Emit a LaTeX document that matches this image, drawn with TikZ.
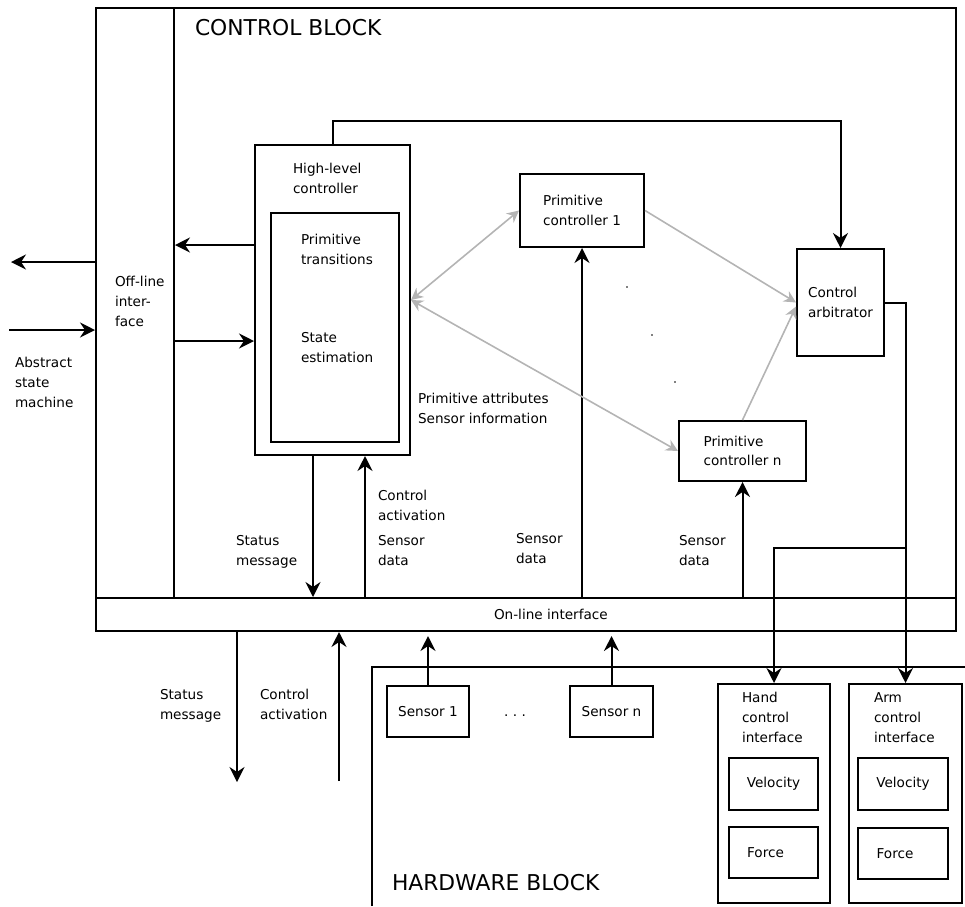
\documentclass[tikz,border=0pt]{standalone}
\usepackage{fontspec}
\setmainfont{DejaVu Sans}
\usetikzlibrary{arrows.meta}
\definecolor{arrgray}{RGB}{180,180,180}
\newcommand{\lbl}{\fontsize{13.6pt}{19.6pt}\selectfont}
\newcommand{\blocklbl}{\fontsize{21.8pt}{26pt}\selectfont}

\begin{document}
\begin{tikzpicture}[x=1pt, y=-1pt, line width=2pt,
        >={Stealth[length=15pt, width=15pt, inset=5pt]},
        comp/.style = {draw, line width=2pt, font=\lbl, align=left, inner sep=0pt},
        txt/.style = {font=\lbl, align=left, inner sep=0pt, anchor=base west},
        blk/.style = {font=\blocklbl, inner sep=0pt, anchor=base west},
        soft/.style = {draw=arrgray, line width=1.6pt, >={Stealth[length=12pt, width=12pt, inset=4pt]}}
    ]
        \useasboundingbox (0,0) rectangle (965,906);

        % control block
        \node[comp, minimum width=860pt, minimum height=623pt] (ctrl) at (526,319.5) {};
        \node[blk] (ctrltxt) at (194,35) {CONTROL BLOCK};
        \node[comp, minimum width=78pt, minimum height=590pt] (offline) at (135,303) {};
        \node[txt] (offtxt) at (114,326) {Off-line\\inter-\\face};
        \node[comp, minimum width=860pt, minimum height=33pt] (band) at (526,614.5) {};
        \node[txt] (online) at (493,619) {On-line interface};

        \node[comp, minimum width=155pt, minimum height=310pt] (hlc) at (332.5,300) {};
        \node[comp, minimum width=128pt, minimum height=229pt] (hlcin) at (335,327.5) {};
        \node[txt] (hlctxt) at (292,193) {High-level\\controller};
        \node[txt] (trans) at (300,264) {Primitive\\transitions};
        \node[txt] (est) at (300,362) {State\\estimation};

        \node[comp, minimum width=124pt, minimum height=73pt] (pc1) at (582,210.5) {Primitive\\controller 1};
        \node[comp, minimum width=127pt, minimum height=60pt] (pcn) at (742.5,451) {Primitive\\controller n};
        \node[comp, minimum width=87pt, minimum height=107pt] (arb) at (840.5,302.5) {Control\\arbitrator};

        \node[txt] (attr) at (417,423) {Primitive attributes\\Sensor information};
        \node[txt] (act1) at (377,520) {Control\\activation};
        \node[txt] (sd1) at (377,565) {Sensor\\data};
        \node[txt] (st1) at (235,565) {Status\\message};
        \node[txt] (sd2) at (515,563) {Sensor\\data};
        \node[txt] (sd3) at (678,565) {Sensor\\data};
        \node[txt] (asm) at (14,407) {Abstract\\state\\machine};

        \fill (627,287) circle (0.9);
        \fill (652,335) circle (0.9);
        \fill (675,382) circle (0.9);

        % off-line side
        \coordinate (asmout) at (11,262);
        \coordinate (asmin) at (9,330);
        \draw[->] (offline.west |- asmout) -- (asmout);
        \draw[->] (asmin) -- (asmin -| offline.west);
        \draw[->] ([yshift=55pt]hlc.west) -- ([yshift=55pt]hlc.west -| offline.east);
        \draw[->] ([yshift=-41pt]hlc.west -| offline.east) -- ([yshift=-41pt]hlc.west);

        % inside control block
        \draw[->] (hlc.north) -- ++(0,-23) -| (arb.north);
        \draw[->] ([xshift=-19.5pt]hlc.south) -- ([xshift=-19.5pt]hlc.south |- band.north);
        \draw[->] ([xshift=32.5pt]hlc.south |- band.north) -- ([xshift=32.5pt]hlc.south);
        \draw[->] (pc1.south |- band.north) -- (pc1.south);
        \draw[->] (pcn.south |- band.north) -- (pcn.south);

        \draw[soft, <->] (hlc.east) -- (pc1.west);
        \draw[soft, <->] (hlc.east) -- (pcn.west);
        \draw[soft, ->] (pc1.east) -- (arb.west);
        \draw[soft, ->] (pcn.north) -- ([yshift=-4pt]arb.west);

        % hardware block
        \draw (372,906) -- (372,667) -- (965,667);
        \node[blk] (hwtxt) at (391,890) {HARDWARE BLOCK};
        \node[comp, minimum width=82pt, minimum height=51pt] (s1) at (428,711.5) {Sensor 1};
        \node[comp, minimum width=83pt, minimum height=51pt] (sn) at (611.5,711.5) {Sensor n};
        \node[txt] (sdots) at (503,716) {.\,\,.\,\,.};
        \draw[->] (s1.north) -- ++(0,-49);
        \draw[->] (sn.north) -- ++(0,-49);

        \node[comp, minimum width=112pt, minimum height=219pt] (hand) at (774,793.5) {};
        \node[comp, minimum width=113pt, minimum height=219pt] (arm) at (905.5,793.5) {};
        \node[txt] (handtxt) at (741,742) {Hand\\control\\interface};
        \node[txt] (armtxt) at (873,742) {Arm\\control\\interface};
        \node[comp, minimum width=89pt, minimum height=52pt] (hvel) at (773.5,784) {Velocity};
        \node[comp, minimum width=89pt, minimum height=51pt] (hfor) at (773.5,852.5) {Force\hspace*{16pt}};
        \node[comp, minimum width=90pt, minimum height=52pt] (avel) at (903,784) {Velocity};
        \node[comp, minimum width=90pt, minimum height=51pt] (afor) at (903,853.5) {Force\hspace*{16pt}};

        \coordinate (handsplit) at (905.5,548);
        \draw[->] (arb.east) -| (arm.north);
        \draw[->] (handsplit) -| (hand.north);

        % outside, below the on-line interface
        \coordinate (statout) at (237,782);
        \coordinate (ctlin) at (339,781);
        \draw[->] (statout |- band.south) -- (statout);
        \draw[->] (ctlin) -- (ctlin |- band.south);
        \node[txt] (st2) at (159,719) {Status\\message};
        \node[txt] (act2) at (259,719) {Control\\activation};
    \end{tikzpicture}
\end{document}
